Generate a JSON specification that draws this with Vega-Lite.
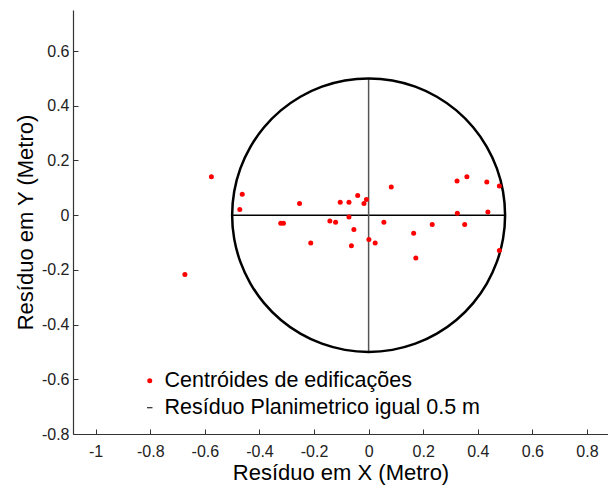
{
  "$schema": "https://vega.github.io/schema/vega-lite/v6.json",
  "width": 535,
  "height": 424,
  "autosize": {"type": "none"},
  "padding": {"left": 73, "top": 10, "right": 0, "bottom": 52},
  "background": "white",
  "config": {
    "view": {"stroke": null},
    "font": "Liberation Sans",
    "axis": {
      "grid": false,
      "domainColor": "#333333",
      "domainWidth": 1.2,
      "tickColor": "#333333",
      "tickSize": -5,
      "labelFont": "Liberation Sans",
      "labelFontSize": 16,
      "labelColor": "#222222",
      "labelExpr": "'' + datum.value",
      "titleFont": "Liberation Sans",
      "titleFontSize": 22,
      "titleFontWeight": "normal",
      "titleColor": "black"
    }
  },
  "datasets": {
    "pts": [
      {"x": -0.576, "y": 0.140, "s": "Centróides de edificações"},
      {"x": -0.463, "y": 0.076, "s": "Centróides de edificações"},
      {"x": -0.472, "y": 0.021, "s": "Centróides de edificações"},
      {"x": -0.253, "y": 0.043, "s": "Centróides de edificações"},
      {"x": -0.322, "y": -0.030, "s": "Centróides de edificações"},
      {"x": -0.312, "y": -0.030, "s": "Centróides de edificações"},
      {"x": -0.673, "y": -0.217, "s": "Centróides de edificações"},
      {"x": -0.212, "y": -0.102, "s": "Centróides de edificações"},
      {"x": -0.142, "y": -0.021, "s": "Centróides de edificações"},
      {"x": -0.121, "y": -0.026, "s": "Centróides de edificações"},
      {"x": -0.104, "y": 0.047, "s": "Centróides de edificações"},
      {"x": -0.072, "y": 0.047, "s": "Centróides de edificações"},
      {"x": -0.072, "y": -0.007, "s": "Centróides de edificações"},
      {"x": -0.054, "y": -0.052, "s": "Centróides de edificações"},
      {"x": -0.063, "y": -0.112, "s": "Centróides de edificações"},
      {"x": -0.040, "y": 0.072, "s": "Centróides de edificações"},
      {"x": -0.017, "y": 0.043, "s": "Centróides de edificações"},
      {"x": -0.008, "y": 0.057, "s": "Centróides de edificações"},
      {"x": 0.001, "y": -0.089, "s": "Centróides de edificações"},
      {"x": 0.024, "y": -0.102, "s": "Centróides de edificações"},
      {"x": 0.056, "y": -0.026, "s": "Centróides de edificações"},
      {"x": 0.083, "y": 0.103, "s": "Centróides de edificações"},
      {"x": 0.165, "y": -0.066, "s": "Centróides de edificações"},
      {"x": 0.173, "y": -0.157, "s": "Centróides de edificações"},
      {"x": 0.233, "y": -0.034, "s": "Centróides de edificações"},
      {"x": 0.324, "y": 0.125, "s": "Centróides de edificações"},
      {"x": 0.360, "y": 0.140, "s": "Centróides de edificações"},
      {"x": 0.325, "y": 0.007, "s": "Centróides de edificações"},
      {"x": 0.352, "y": -0.034, "s": "Centróides de edificações"},
      {"x": 0.433, "y": 0.121, "s": "Centróides de edificações"},
      {"x": 0.479, "y": 0.107, "s": "Centróides de edificações"},
      {"x": 0.437, "y": 0.012, "s": "Centróides de edificações"},
      {"x": 0.479, "y": -0.129, "s": "Centróides de edificações"}
    ],
    "circ": [
      {"k": 0, "x": 0.5, "y": 0},
      {"k": 1, "x": 0.4924, "y": 0.0868},
      {"k": 2, "x": 0.4698, "y": 0.1710},
      {"k": 3, "x": 0.4330, "y": 0.25},
      {"k": 4, "x": 0.3830, "y": 0.3214},
      {"k": 5, "x": 0.3214, "y": 0.3830},
      {"k": 6, "x": 0.25, "y": 0.4330},
      {"k": 7, "x": 0.1710, "y": 0.4698},
      {"k": 8, "x": 0.0868, "y": 0.4924},
      {"k": 9, "x": 0, "y": 0.5},
      {"k": 10, "x": -0.0868, "y": 0.4924},
      {"k": 11, "x": -0.1710, "y": 0.4698},
      {"k": 12, "x": -0.25, "y": 0.4330},
      {"k": 13, "x": -0.3214, "y": 0.3830},
      {"k": 14, "x": -0.3830, "y": 0.3214},
      {"k": 15, "x": -0.4330, "y": 0.25},
      {"k": 16, "x": -0.4698, "y": 0.1710},
      {"k": 17, "x": -0.4924, "y": 0.0868},
      {"k": 18, "x": -0.5, "y": 0},
      {"k": 19, "x": -0.4924, "y": -0.0868},
      {"k": 20, "x": -0.4698, "y": -0.1710},
      {"k": 21, "x": -0.4330, "y": -0.25},
      {"k": 22, "x": -0.3830, "y": -0.3214},
      {"k": 23, "x": -0.3214, "y": -0.3830},
      {"k": 24, "x": -0.25, "y": -0.4330},
      {"k": 25, "x": -0.1710, "y": -0.4698},
      {"k": 26, "x": -0.0868, "y": -0.4924},
      {"k": 27, "x": 0, "y": -0.5},
      {"k": 28, "x": 0.0868, "y": -0.4924},
      {"k": 29, "x": 0.1710, "y": -0.4698},
      {"k": 30, "x": 0.25, "y": -0.4330},
      {"k": 31, "x": 0.3214, "y": -0.3830},
      {"k": 32, "x": 0.3830, "y": -0.3214},
      {"k": 33, "x": 0.4330, "y": -0.25},
      {"k": 34, "x": 0.4698, "y": -0.1710},
      {"k": 35, "x": 0.4924, "y": -0.0868}
    ],
    "cross": [
      {"x": -0.5, "x2": 0.5, "y": 0, "y2": 0, "c": "black"},
      {"x": 0, "x2": 0, "y": -0.5, "y2": 0.5, "c": "#555555"}
    ]
  },
  "layer": [
    {
      "data": {"name": "cross"},
      "mark": {"type": "rule", "strokeWidth": 1.5},
      "encoding": {
        "x": {"field": "x", "type": "quantitative", "scale": {"domain": [-1.083, 0.877], "nice": false, "zero": false},
          "axis": {"values": [-1, -0.8, -0.6, -0.4, -0.2, 0, 0.2, 0.4, 0.6, 0.8], "title": "Resíduo em X (Metro)", "labelPadding": 14, "titlePadding": 3}},
        "x2": {"field": "x2"},
        "y": {"field": "y", "type": "quantitative", "scale": {"domain": [-0.8, 0.75], "nice": false, "zero": false},
          "axis": {"values": [-0.8, -0.6, -0.4, -0.2, 0, 0.2, 0.4, 0.6], "title": "Resíduo em Y (Metro)", "labelPadding": 9, "titlePadding": 4}},
        "y2": {"field": "y2"},
        "stroke": {"field": "c", "type": "nominal", "scale": null}
      }
    },
    {
      "data": {"name": "circ"},
      "mark": {"type": "line", "interpolate": "cardinal-closed", "stroke": "black", "strokeWidth": 2.5},
      "encoding": {
        "x": {"field": "x", "type": "quantitative"},
        "y": {"field": "y", "type": "quantitative"},
        "order": {"field": "k", "type": "quantitative"}
      }
    },
    {
      "data": {"name": "pts"},
      "mark": {"type": "point", "filled": true, "opacity": 1, "size": 25},
      "encoding": {
        "x": {"field": "x", "type": "quantitative"},
        "y": {"field": "y", "type": "quantitative"},
        "color": {"field": "s", "type": "nominal",
          "scale": {"domain": ["Centróides de edificações", "Resíduo Planimetrico igual 0.5 m"], "range": ["#ff0000", "black"]},
          "legend": {"title": null, "orient": "none", "legendX": 66, "legendY": 360, "labelFontSize": 21.5, "labelFont": "Liberation Sans", "labelColor": "black", "symbolSize": 25, "rowPadding": 4, "labelOffset": 4, "labelLimit": 400}},
        "shape": {"field": "s", "type": "nominal",
          "scale": {"domain": ["Centróides de edificações", "Resíduo Planimetrico igual 0.5 m"], "range": ["circle", "M-1.1,-0.2H1.1V0.2H-1.1Z"]},
          "legend": null}
      }
    }
  ]
}
